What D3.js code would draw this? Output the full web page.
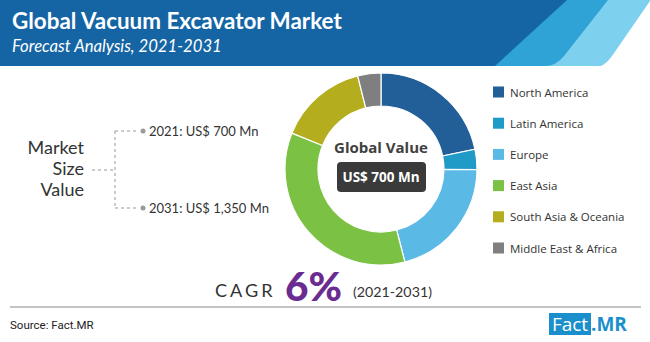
<!DOCTYPE html>
<html><head><meta charset="utf-8">
<script src="https://cdn.jsdelivr.net/npm/d3@7"></script>
<style>html,body{margin:0;padding:0;background:#fff;}svg{display:block;}</style>
</head><body><svg id="c" width="650" height="342"></svg>
<script>
const regions = ["North America","Latin America","Europe","East Asia","South Asia & Oceania","Middle East & Africa"];
const shares = [21.7, 3.4, 20.9, 35.1, 15.0, 3.9];
const colors = ["#225f98","#209ac6","#5bb9e6","#7bc143","#b4ad1e","#7f7f7f"];
const marketYears = ["2021","2031"];
const marketValues = ["US$ 700 Mn","US$ 1,350 Mn"];
const globalValue = "US$ 700 Mn";
const cagr = "6%";
const period = "(2021-2031)";

const svg = d3.select("#c");
// fit text to a target width by adjusting font size
function fit(sel, w){const n=sel.node();const L=n.getComputedTextLength();const fs=parseFloat(sel.attr("font-size"));sel.attr("font-size",fs*w/L);return sel;}

// banner
svg.append("rect").attr("x",0).attr("y",0).attr("width",650).attr("height",66).attr("fill","#1565a5");
svg.append("path").attr("d","M567,0 L650,0 L650,66 L495,66 Z").attr("fill","#2fa2d6");
svg.append("path").attr("d","M608,0 L650,0 L650,66 L545,66 Q556,66 564,56 Z").attr("fill","#7dd0ee");
svg.append("path").attr("d","M650,0 L650,66 L590,66 Q600,66 608,55 Z").attr("fill","#7dd0ee");
svg.append("path").attr("d","M652,-2 L652,68 L592,68 Q604,68 612,56 Z").attr("fill","#ffffff");
fit(svg.append("text").attr("x",12).attr("y",29).attr("fill","#fff").attr("font-family","Lato").attr("font-weight","bold").attr("font-size",21).text("Global Vacuum Excavator Market"),330);
fit(svg.append("text").attr("x",12).attr("y",52).attr("fill","#fff").attr("font-family","Lato").attr("font-style","italic").attr("font-size",15.5).text("Forecast Analysis, 2021-2031"),210);

// market size block
const ms = svg.append("g").attr("font-family","Lato").attr("fill","#333");
["Market","Size","Value"].forEach((t,i)=>ms.append("text").attr("x",84).attr("y",154+i*21).attr("text-anchor","end").attr("font-size",18).text(t));
function ln(x1,y1,x2,y2){svg.append("line").attr("x1",x1).attr("y1",y1).attr("x2",x2).attr("y2",y2).attr("stroke","#999").attr("stroke-width",1).attr("stroke-dasharray","3,3");}
const yPos = d3.scalePoint().domain(marketYears).range([131,208]);
ln(92,170,115,170);
ln(115,131,115,208);
marketYears.forEach((y,i)=>{
  ln(115,yPos(y),138,yPos(y));
  svg.append("circle").attr("cx",143).attr("cy",yPos(y)).attr("r",2.5).attr("fill","#999");
  svg.append("text").attr("x",149).attr("y",yPos(y)+4.5).attr("font-family","Lato").attr("font-size",13).attr("fill","#333").text(y+": "+marketValues[i]);
});

// donut
const cx=381, cy=169, R=96, r=63;
const pie = d3.pie().sort(null).value(d=>d);
const arc = d3.arc().innerRadius(r).outerRadius(R);
const g = svg.append("g").attr("transform",`translate(${cx},${cy})`);
g.selectAll("path").data(pie(shares)).join("path").attr("d",arc).attr("fill",(d,i)=>colors[i]).attr("stroke","#fff").attr("stroke-width",1.2);
g.append("text").attr("y",-16).attr("text-anchor","middle").attr("font-family","Open Sans").attr("font-weight","bold").attr("font-size",15).attr("fill","#404040").text("Global Value");
g.append("rect").attr("x",-44).attr("y",-7).attr("width",89).attr("height",30).attr("rx",4).attr("fill","#3a3a3a");
g.append("text").attr("y",13).attr("text-anchor","middle").attr("font-family","Open Sans").attr("font-weight","bold").attr("font-size",13.5).attr("fill","#fff").text(globalValue);

// legend
const ly = d3.scalePoint().domain(regions).range([92,248]);
const lg = svg.append("g");
regions.forEach((d,i)=>{
  lg.append("rect").attr("x",493).attr("y",ly(d)-5.5).attr("width",11).attr("height",11).attr("fill",colors[i]);
  lg.append("text").attr("x",510).attr("y",ly(d)+4.5).attr("font-family","Open Sans").attr("font-size",11.5).attr("fill","#333").text(d);
});

// CAGR
const c1 = svg.append("text").attr("x",215).attr("y",297).attr("font-family","Lato").attr("font-size",19).attr("letter-spacing",3).attr("fill","#333").text("CAGR");
fit(c1,57+3);
fit(svg.append("text").attr("x",285).attr("y",301).attr("font-family","Lato").attr("font-weight","900").attr("font-size",44).attr("fill","#6b2c91").text(cagr),57);
fit(svg.append("text").attr("x",353).attr("y",297).attr("font-family","Lato").attr("font-size",16).attr("fill","#333").text(period),79);

svg.append("line").attr("x1",10).attr("x2",641).attr("y1",307).attr("y2",307).attr("stroke","#888").attr("stroke-width",1);
svg.append("text").attr("x",10).attr("y",329).attr("font-family","Liberation Sans Narrow, Roboto").attr("font-size",11.5).attr("fill","#222").text("Source: Fact.MR");
// logo
svg.append("rect").attr("x",549).attr("y",313).attr("width",42).attr("height",22).attr("fill","#1b8fcb");
svg.append("text").attr("x",570).attr("y",331).attr("text-anchor","middle").attr("font-family","Open Sans").attr("font-size",19).attr("fill","#fff").text("Fact");
svg.append("text").attr("x",591).attr("y",331).attr("font-family","Open Sans").attr("font-weight","bold").attr("font-size",19).attr("fill","#1b8fcb").text(".MR");
</script></body></html>
